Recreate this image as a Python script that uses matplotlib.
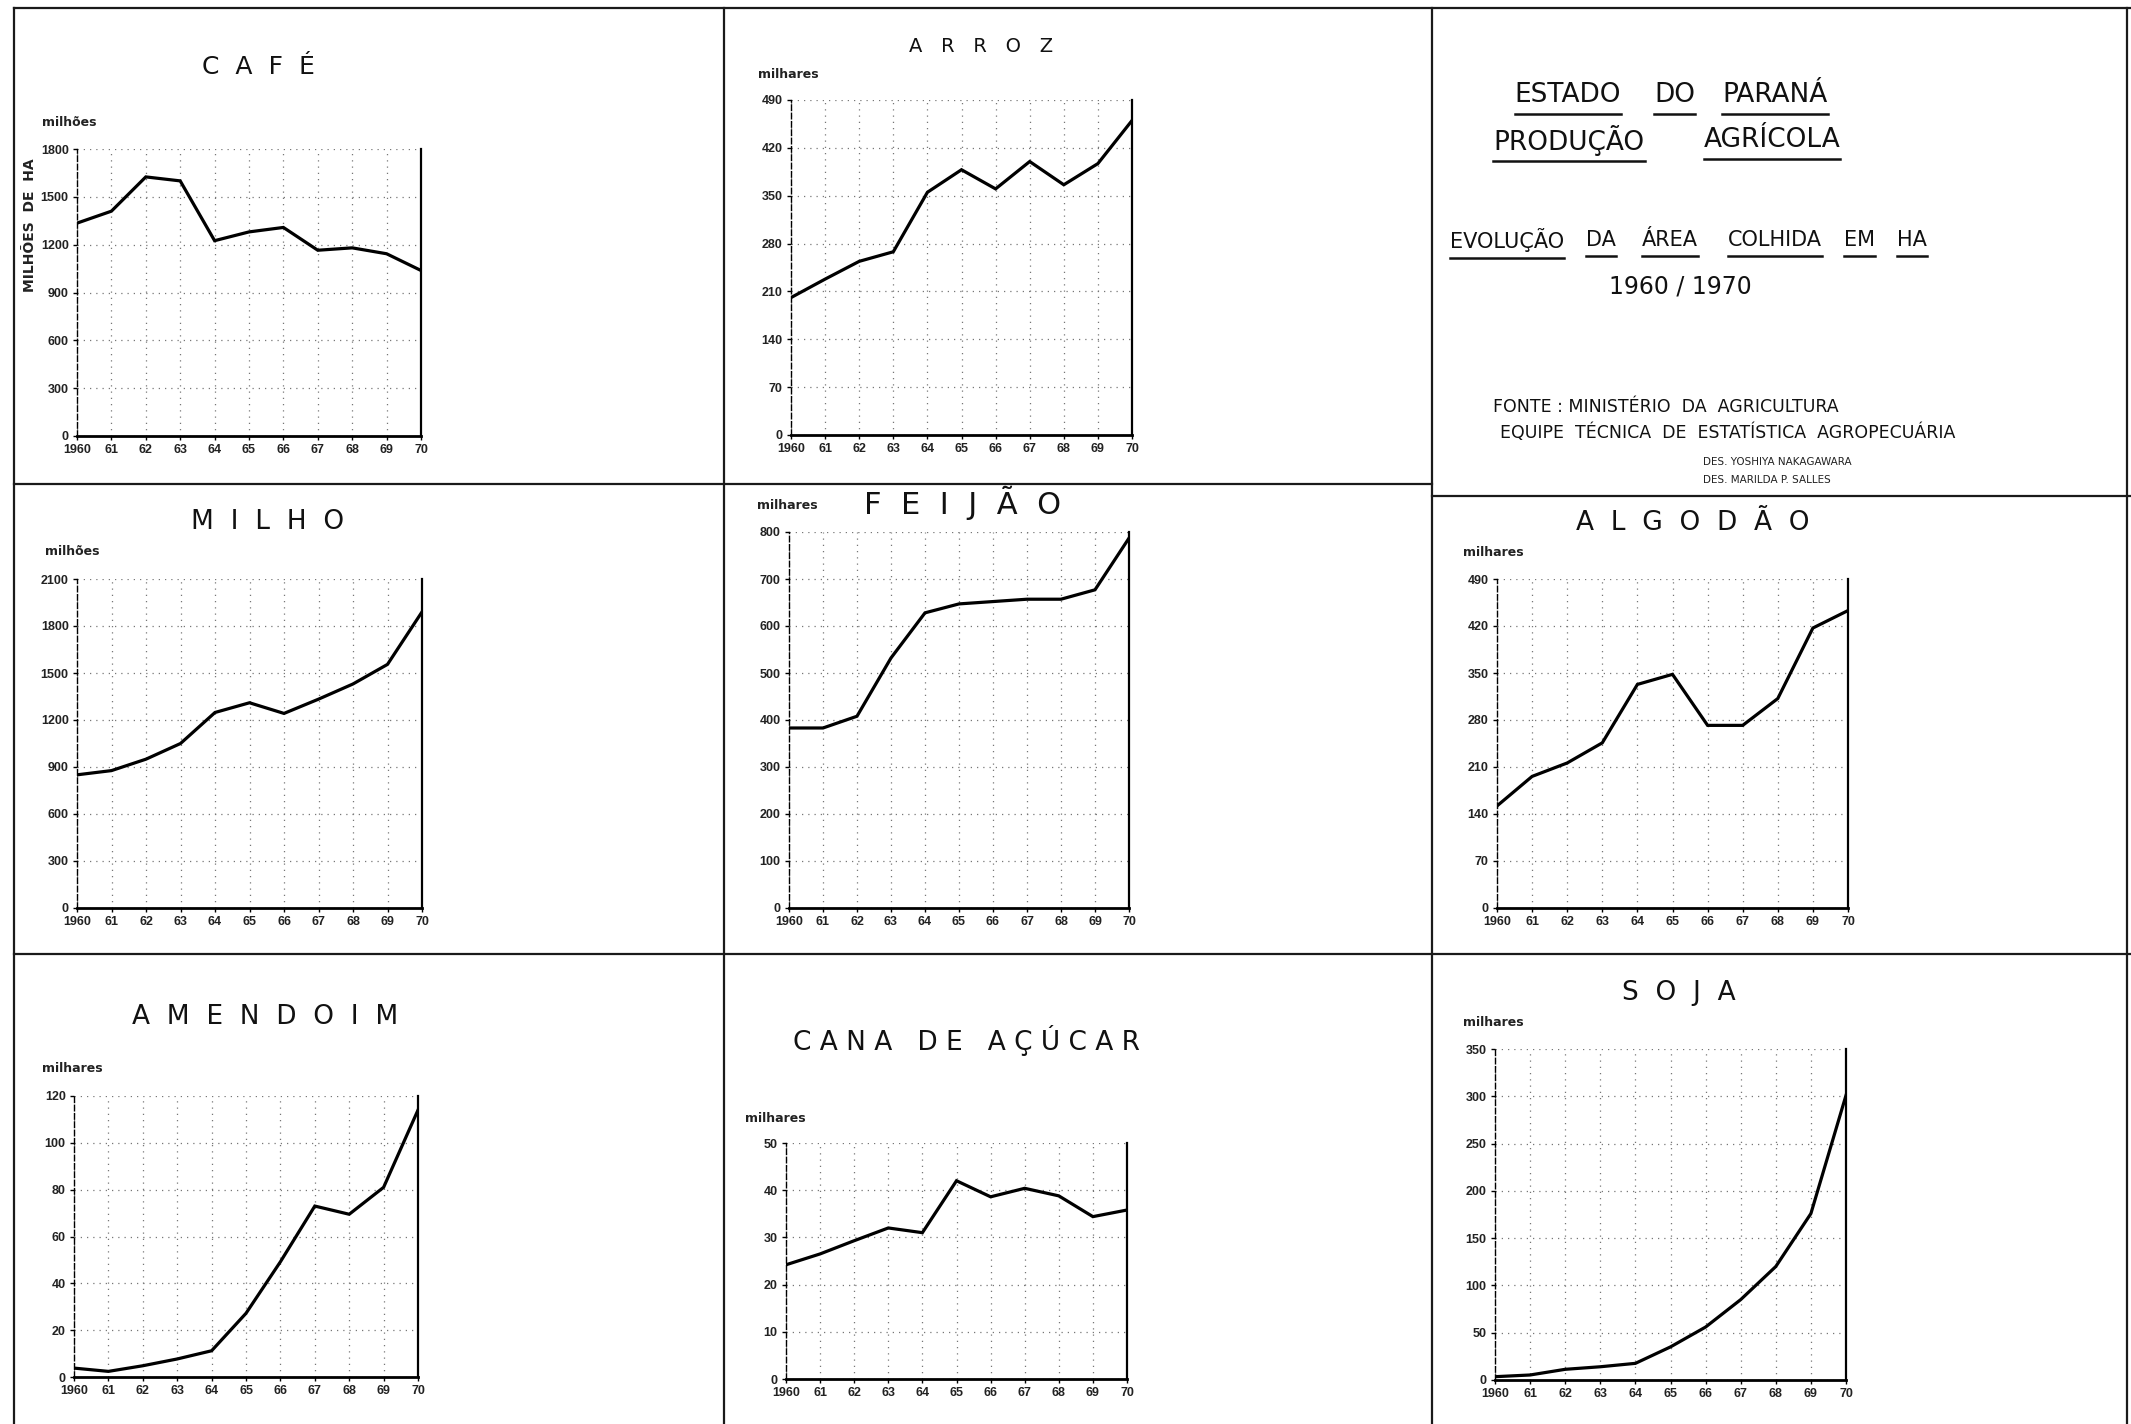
import numpy as np
import matplotlib.pyplot as plt
from matplotlib.lines import Line2D

plt.rcParams['font.family'] = ['DejaVu Sans']

W, H = 2131, 1424

# área colhida, Paraná 1960-1970
anos = list(range(1960, 1971))
rotulos_x = ['1960', '61', '62', '63', '64', '65', '66', '67', '68', '69', '70']

cafe = [1335, 1410, 1625, 1600, 1225, 1280, 1308, 1165, 1180, 1143, 1038]
arroz = [201, 228, 254, 268, 355, 388, 360, 400, 366, 397, 460]
milho = [850, 877, 950, 1050, 1248, 1310, 1242, 1333, 1430, 1555, 1890]
feijao = [383, 383, 408, 532, 628, 647, 652, 657, 657, 677, 787]
algodao = [152, 196, 216, 246, 333, 348, 272, 272, 312, 417, 443]
amendoim = [3.8, 2.4, 4.8, 7.7, 11.2, 27.2, 49.2, 73, 69.5, 81, 114]
cana = [24.2, 26.5, 29.3, 32, 31, 42, 38.6, 40.4, 38.8, 34.4, 35.8]
soja = [3.5, 5.3, 11.3, 14, 17.6, 35, 56, 85, 120, 176, 301]

ticks_cafe = [0, 300, 600, 900, 1200, 1500, 1800]
ticks_arroz = [0, 70, 140, 210, 280, 350, 420, 490]
ticks_milho = [0, 300, 600, 900, 1200, 1500, 1800, 2100]
ticks_feijao = [0, 100, 200, 300, 400, 500, 600, 700, 800]
ticks_algodao = [0, 70, 140, 210, 280, 350, 420, 490]
ticks_amendoim = [0, 20, 40, 60, 80, 100, 120]
ticks_cana = [0, 10, 20, 30, 40, 50]
ticks_soja = [0, 50, 100, 150, 200, 250, 300, 350]

FONTE_NUM = ['Liberation Sans', 'DejaVu Sans']


def fx(x):
    return x / W


def fy(y):
    return 1 - y / H


fig = plt.figure(figsize=(W / 100, H / 100), dpi=100)
fig.patch.set_facecolor('white')


def espacado(nome, sep=2):
    palavras = nome.split(' ')
    return '   '.join((' ' * sep).join(p) for p in palavras)


def grafico(box, valores, yticks, titulo, tpos, tsize, unidade, upos, sep=2):
    x0, y0, x1, y1 = box
    ax = fig.add_axes([fx(x0), fy(y1), fx(x1) - fx(x0), (y1 - y0) / H])
    ax.plot(anos, valores, color='black', lw=2.3, solid_joinstyle='miter')
    ax.set_xlim(1960, 1970)
    ax.set_ylim(0, yticks[-1])
    ax.set_xticks(anos)
    ax.set_xticklabels(rotulos_x)
    ax.set_yticks(yticks)
    ax.set_yticklabels([str(t) for t in yticks])
    ax.tick_params(axis='both', labelsize=9, length=3, width=1, pad=3)
    for lb in ax.get_xticklabels() + ax.get_yticklabels():
        lb.set_fontweight('bold')
        lb.set_family(FONTE_NUM)
        lb.set_color('#222222')
    ax.grid(True, color='#777777', lw=0.9, linestyle=(0, (1, 4)))
    ax.set_axisbelow(True)
    ax.spines['top'].set_visible(False)
    ax.spines['left'].set_linestyle((0, (4, 2)))
    ax.spines['left'].set_linewidth(1.0)
    ax.spines['right'].set_linewidth(1.6)
    ax.spines['bottom'].set_linewidth(2.0)
    ax.set_facecolor('none')
    fig.text(fx(tpos[0]), fy(tpos[1]), espacado(titulo, sep), ha='center',
             va='center', fontsize=tsize, color='#111111')
    fig.text(fx(upos[0]), fy(upos[1]), unidade, ha='left', va='center',
             fontsize=9, fontweight='bold', color='#222222')
    return ax


grafico((77, 149, 421, 436), cafe, ticks_cafe, 'CAFÉ',
        (258, 67), 18, 'milhões', (42, 123))
fig.text(fx(30), fy(225), 'MILHÕES  DE  HA', rotation=90, ha='center',
         va='center', fontsize=10, fontweight='bold', color='#222222')
grafico((791, 100, 1132, 435), arroz, ticks_arroz, 'ARROZ',
        (981, 47), 14, 'milhares', (758, 75), sep=3)
grafico((77, 579, 422, 908), milho, ticks_milho, 'MILHO',
        (268, 522), 19, 'milhões', (45, 552))
grafico((789, 532, 1129, 908), feijao, ticks_feijao, 'FEIJÃO',
        (963, 503), 22, 'milhares', (757, 505))
grafico((1497, 579, 1848, 908), algodao, ticks_algodao, 'ALGODÃO',
        (1693, 523), 19, 'milhares', (1463, 553))
grafico((74, 1096, 418, 1377), amendoim, ticks_amendoim, 'AMENDOIM',
        (265, 1017), 19, 'milhares', (42, 1069))
grafico((786, 1143, 1127, 1379), cana, ticks_cana, 'CANA DE AÇÚCAR',
        (967, 1040), 19, 'milhares', (745, 1118), sep=1)
grafico((1495, 1049, 1846, 1380), soja, ticks_soja, 'SOJA',
        (1679, 993), 19, 'milhares', (1463, 1023))

# molduras dos quadros
bordas = [
    ((14, 2131), (8, 8)),
    ((14, 14), (8, 1424)),
    ((724, 724), (8, 1424)),
    ((1432, 1432), (8, 1424)),
    ((2127, 2127), (8, 1424)),
    ((14, 1432), (484, 484)),
    ((1432, 2131), (496, 496)),
    ((14, 2131), (954, 954)),
]
for xs, ys in bordas:
    fig.add_artist(Line2D([fx(xs[0]), fx(xs[1])], [fy(ys[0]), fy(ys[1])],
                          transform=fig.transFigure, color='#1a1a1a', lw=1.6))

# quadro do título
fig.canvas.draw()
renderer = fig.canvas.get_renderer()


def palavra(texto, cx, cy, size, sublinhar=True):
    t = fig.text(fx(cx), fy(cy), texto, ha='center', va='center',
                 fontsize=size, color='#111111')
    if sublinhar:
        bb = t.get_window_extent(renderer).transformed(fig.transFigure.inverted())
        fig.add_artist(Line2D([bb.x0, bb.x1], [bb.y0 - 0.004, bb.y0 - 0.004],
                              transform=fig.transFigure, color='#111111', lw=1.8))


for w, cx in [('ESTADO', 1568), ('DO', 1675), ('PARANÁ', 1775)]:
    palavra(w, cx, 95, 19)
for w, cx in [('PRODUÇÃO', 1569), ('AGRÍCOLA', 1772)]:
    palavra(w, cx, 140, 19)
for w, cx in [('EVOLUÇÃO', 1507), ('DA', 1601), ('ÁREA', 1670),
              ('COLHIDA', 1775), ('EM', 1859), ('HA', 1912)]:
    palavra(w, cx, 240, 15)
fig.text(fx(1680), fy(287), '1960 / 1970', ha='center', va='center',
         fontsize=17, color='#111111')
fig.text(fx(1493), fy(407), 'FONTE : MINISTÉRIO  DA  AGRICULTURA', ha='left',
         va='center', fontsize=12.5, color='#111111')
fig.text(fx(1500), fy(433), 'EQUIPE  TÉCNICA  DE  ESTATÍSTICA  AGROPECUÁRIA',
         ha='left', va='center', fontsize=12.5, color='#111111')
fig.text(fx(1703), fy(462), 'DES. YOSHIYA NAKAGAWARA', ha='left', va='center',
         fontsize=7.5, color='#222222')
fig.text(fx(1703), fy(480), 'DES. MARILDA P. SALLES', ha='left', va='center',
         fontsize=7.5, color='#222222')

fig.savefig('out.png', dpi=100, facecolor='white')
